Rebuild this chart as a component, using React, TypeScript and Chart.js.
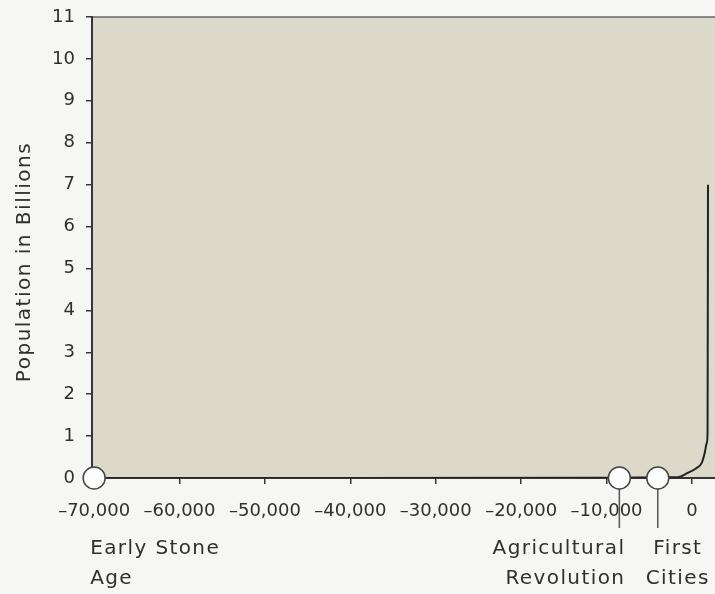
import React, { useEffect, useRef } from "react";
import { Chart, registerables } from "chart.js";

Chart.register(...registerables);

// ---- data ----
const years = [-70000, -10000, -3000, -1650, -500, 550, 1150, 1500, 1740, 1830, 1880];
const population = [0, 0.005, 0.015, 0.02, 0.12, 0.24, 0.36, 0.6, 0.84, 1.1, 7.0];

const milestoneYears = [-70000, -8500, -4000];
const milestoneLabels = [
  ["Early Stone", "Age"],
  ["Agricultural", "Revolution"],
  ["First", "Cities"],
];

const xTickValues = [-70000, -60000, -50000, -40000, -30000, -20000, -10000, 0];
const yAxisTitle = "Population in Billions";

// ---- styles ----
const FONT = "'DejaVu Sans', 'Liberation Sans', sans-serif";
const TEXT = "#2f2f2f";
const OUTER_BG = "#f6f6f4";
const PLOT_BG = "#dcd9cb";
const AXIS = "#363636";

// layout for milestone labels (style, not data)
const labelLayout = [
  { align: "left", dx: -4, pointer: false },
  { align: "right", dx: 6, pointer: true },
  { align: "center", dx: 20, pointer: true },
];

const decorPlugin = {
  id: "decor",
  beforeDraw(chart: any) {
    const { ctx, chartArea, width, height } = chart;
    ctx.save();
    ctx.fillStyle = OUTER_BG;
    ctx.fillRect(0, 0, width, height);
    ctx.fillStyle = PLOT_BG;
    ctx.fillRect(chartArea.left, chartArea.top, chartArea.right - chartArea.left, chartArea.bottom - chartArea.top);
    ctx.strokeStyle = "#666";
    ctx.lineWidth = 1.5;
    ctx.beginPath();
    ctx.moveTo(chartArea.left, chartArea.top);
    ctx.lineTo(chartArea.right, chartArea.top);
    ctx.stroke();
    ctx.restore();
  },
  afterDraw(chart: any) {
    const { ctx } = chart;
    const xs = chart.scales.x;
    const ys = chart.scales.y;
    const y0 = ys.getPixelForValue(0);
    ctx.save();
    // pointer lines
    ctx.strokeStyle = "#555";
    ctx.lineWidth = 1.5;
    milestoneYears.forEach((yr, i) => {
      if (!labelLayout[i].pointer) return;
      const px = xs.getPixelForValue(yr);
      ctx.beginPath();
      ctx.moveTo(px, y0 + 11);
      ctx.lineTo(px, y0 + 50);
      ctx.stroke();
    });
    // circles
    milestoneYears.forEach((yr) => {
      const px = xs.getPixelForValue(yr);
      ctx.beginPath();
      ctx.arc(px, y0, 11, 0, Math.PI * 2);
      ctx.fillStyle = "#fdfdfd";
      ctx.fill();
      ctx.strokeStyle = "#444";
      ctx.lineWidth = 1.5;
      ctx.stroke();
    });
    // labels
    ctx.fillStyle = TEXT;
    ctx.font = `20px ${FONT}`;
    (ctx as any).letterSpacing = "1.4px";
    ctx.textBaseline = "alphabetic";
    milestoneYears.forEach((yr, i) => {
      const px = xs.getPixelForValue(yr) + labelLayout[i].dx;
      ctx.textAlign = labelLayout[i].align as CanvasTextAlign;
      milestoneLabels[i].forEach((line, j) => {
        ctx.fillText(line, px, y0 + 76 + j * 30);
      });
    });
    // y axis title
    ctx.translate(25, 262);
    ctx.rotate(-Math.PI / 2);
    ctx.textAlign = "center";
    ctx.textBaseline = "middle";
    ctx.font = `20px ${FONT}`;
    (ctx as any).letterSpacing = "1.5px";
    ctx.fillText(yAxisTitle, 0, 0);
    ctx.restore();
  },
};

export default function App() {
  const ref = useRef<HTMLCanvasElement | null>(null);
  useEffect(() => {
    if (!ref.current) return;
    const chart = new Chart(ref.current, {
      type: "scatter",
      data: {
        datasets: [
          {
            label: "Population",
            data: years.map((x, i) => ({ x, y: population[i] })),
            showLine: true,
            borderColor: "#222",
            borderWidth: 2,
            pointRadius: 0,
            cubicInterpolationMode: "monotone",
          } as any,
        ],
      },
      options: {
        animation: false,
        responsive: false,
        devicePixelRatio: 1,
        layout: { padding: { top: 17, left: 0, right: 0, bottom: 0 } },
        plugins: { legend: { display: false }, tooltip: { enabled: false } },
        scales: {
          x: {
            type: "linear",
            min: -70250,
            max: 2700,
            afterBuildTicks: (scale: any) => {
              scale.ticks = xTickValues.map((v) => ({ value: v }));
            },
            afterFit: (scale: any) => {
              scale.height = 116;
              scale.paddingLeft = 0;
              scale.paddingRight = 0;
            },
            ticks: {
              autoSkip: false,
              maxRotation: 0,
              padding: 17,
              color: TEXT,
              font: { family: FONT, size: 18 },
              callback: (v: any) => (v < 0 ? "\u2013" : "") + Math.abs(Number(v)).toLocaleString("en-US"),
            },
            grid: { display: true, drawOnChartArea: false, drawTicks: true, tickLength: 6, color: AXIS, lineWidth: 1.5 },
            border: { display: true, color: AXIS, width: 2 },
          },
          y: {
            type: "linear",
            min: 0,
            max: 11,
            afterFit: (scale: any) => {
              scale.width = 92;
              scale.paddingTop = 0;
              scale.paddingBottom = 0;
            },
            ticks: {
              stepSize: 1,
              padding: 11,
              color: TEXT,
              font: { family: FONT, size: 18 },
            },
            grid: { display: true, drawOnChartArea: false, drawTicks: true, tickLength: 6, color: AXIS, lineWidth: 1.5 },
            border: { display: true, color: AXIS, width: 2 },
          },
        },
      } as any,
      plugins: [decorPlugin],
    });
    return () => chart.destroy();
  }, []);
  return (
    <div style={{ position: "absolute", left: 0, top: 0, width: 715, height: 594, background: OUTER_BG }}>
      <canvas ref={ref} width={715} height={594} style={{ display: "block", width: 715, height: 594 }} />
    </div>
  );
}
